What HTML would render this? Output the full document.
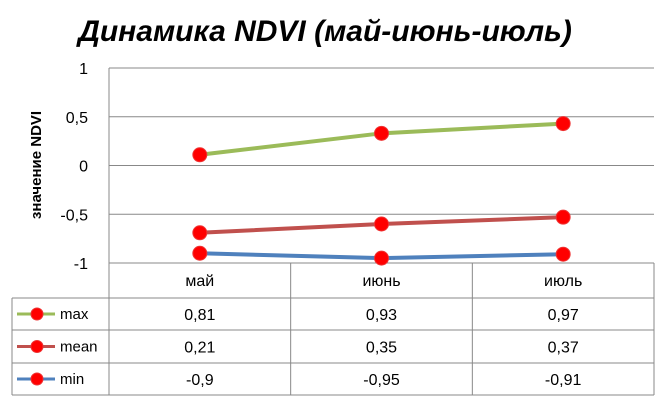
<!DOCTYPE html>
<html><head><meta charset="utf-8"><style>
body{margin:0;background:#fff;}
svg{display:block;font-family:"Liberation Sans",sans-serif;}
</style></head><body>
<svg id="chart" width="668" height="401">
<text x="325" y="41" text-anchor="middle" font-size="30" font-weight="bold" font-style="italic">Динамика NDVI (май-июнь-июль)</text>
<text transform="translate(41,165) rotate(-90)" text-anchor="middle" font-size="15" font-weight="bold">значение NDVI</text>
<g id="grid"></g><g id="table"></g><g id="series"></g>
</svg>
<script>
const categories=["май","июнь","июль"];
const maxValues=[0.11,0.33,0.43];
const meanValues=[-0.69,-0.6,-0.53];
const minValues=[-0.9,-0.95,-0.91];
const yTicks=[1,0.5,0,-0.5,-1];
const yTickLabels=["1","0,5","0","-0,5","-1"];
const maxLabels=["0,81","0,93","0,97"];
const meanLabels=["0,21","0,35","0,37"];
const minLabels=["-0,9","-0,95","-0,91"];

const NS="http://www.w3.org/2000/svg";
const L=109,R=654,T=68,B=263;
const colW=(R-L)/categories.length;
function x(i){return L+colW*(i+0.5);}
function y(v){return T+(1-v)/2*(B-T);}
function mk(tag,attrs,parent){const e=document.createElementNS(NS,tag);for(const k in attrs)e.setAttribute(k,attrs[k]);parent.appendChild(e);return e;}
const grid=document.getElementById('grid'),table=document.getElementById('table'),ser=document.getElementById('series');
yTicks.forEach((v,i)=>{
  const ln=mk('line',{x1:L,x2:R,y1:y(v),y2:y(v),stroke:'#888','stroke-width':1},grid);
  
  
  const t=mk('text',{x:88,y:y(v)+6,'text-anchor':'end','font-size':16},grid);
  t.textContent=yTickLabels[i];
  
  
});
mk('line',{x1:L,x2:L,y1:T,y2:B,stroke:'#888'},grid);
const rows=[263,298,330,363,395];
const st={stroke:'#888',fill:'none','stroke-width':1};
mk('line',Object.assign({x1:L,x2:R,y1:rows[0],y2:rows[0]},st),table);
for(let r=1;r<rows.length;r++)mk('line',Object.assign({x1:12,x2:R,y1:rows[r],y2:rows[r]},st),table);
mk('line',Object.assign({x1:12,x2:12,y1:rows[1],y2:rows[4]},st),table);
for(let c=0;c<=categories.length;c++)mk('line',Object.assign({x1:L+c*colW,x2:L+c*colW,y1:rows[0],y2:rows[4]},st),table);
categories.forEach((c,i)=>{
  const t=mk('text',{x:x(i),y:286,'text-anchor':'middle','font-size':16},table);
  t.textContent=c;
  
  
});
const series=[
 {name:'max',vals:maxValues,labels:maxLabels,color:'#9bbb59'},
 {name:'mean',vals:meanValues,labels:meanLabels,color:'#c0504d'},
 {name:'min',vals:minValues,labels:minLabels,color:'#4f81bd'}];
series.forEach((s,si)=>{
  const cy=(rows[si+1]+rows[si+2])/2;
  mk('line',{x1:17,x2:55,y1:cy,y2:cy,stroke:s.color,'stroke-width':3},table);
  mk('circle',{cx:37,cy:cy,r:6,fill:'#f00',stroke:'#e33'},table);
  const lt=mk('text',{x:60,y:cy+5,'font-size':15},table);
  lt.textContent=s.name;
  
  
  s.labels.forEach((lb,i)=>{
    const t=mk('text',{x:x(i),y:cy+6,'text-anchor':'middle','font-size':16},table);
    t.textContent=lb;
    
    
  });
  const pts=s.vals.map((v,i)=>x(i)+','+y(v)).join(' ');
  const pl=mk('polyline',{points:pts,fill:'none',stroke:s.color,'stroke-width':4},ser);
  
  
  s.vals.forEach((v,i)=>{
    const c=mk('circle',{cx:x(i),cy:y(v),r:7,fill:'#f00',stroke:'#e33'},ser);
    
    
  });
});
</script>
</body></html>
